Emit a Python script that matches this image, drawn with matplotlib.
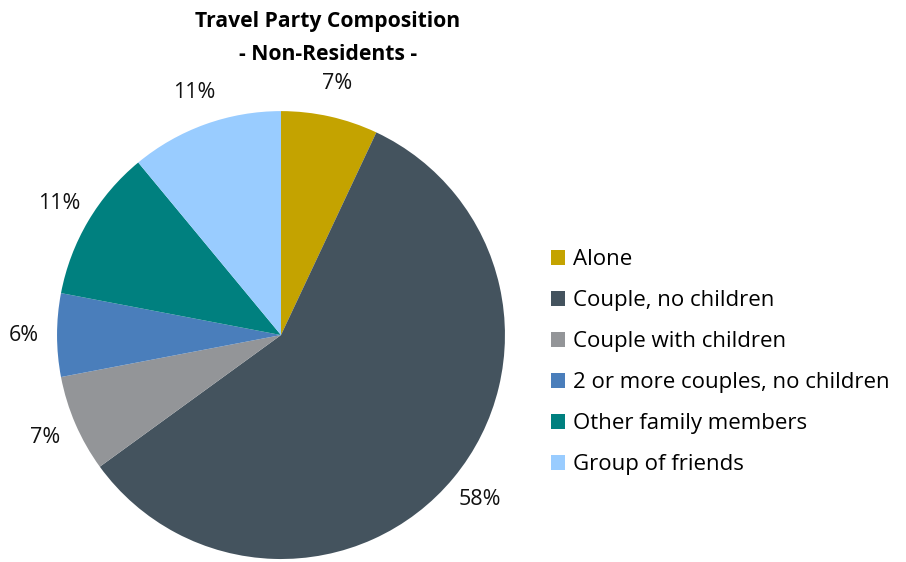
import matplotlib.pyplot as plt
import numpy as np

plt.rcParams['font.family'] = ['Open Sans', 'DejaVu Sans']

# travel party shares, non-residents (%)
categories = ['Alone', 'Couple, no children', 'Couple with children',
              '2 or more couples, no children', 'Other family members',
              'Group of friends']
shares = [7, 58, 7, 6, 11, 11]
colors = ['#C4A300', '#44535E', '#939598', '#4A7EBB', '#00807F', '#99CCFF']

fig = plt.figure(figsize=(9.06, 5.62), dpi=100)
ax = fig.add_axes([0.0629, 0.0053, 0.4945, 0.797])

wedges, texts = ax.pie(shares, colors=colors, startangle=90, counterclock=False,
                       radius=1.0, wedgeprops=dict(linewidth=0))

# percentage labels just outside each slice
total = float(sum(shares))
for w, v in zip(wedges, shares):
    mid = np.deg2rad((w.theta1 + w.theta2) / 2.0)
    d = 1.15
    ax.text(d * np.cos(mid), d * np.sin(mid), '%d%%' % round(100 * v / total),
            ha='center', va='center', fontsize=15.5, color='#111111')

ax.set_xlim(-1, 1)
ax.set_ylim(-1, 1)
ax.set_aspect('equal')
ax.axis('off')

fig.text(0.362, 0.981, 'Travel Party Composition\n- Non-Residents -',
         ha='center', va='top', fontsize=15.2, fontweight='bold',
         linespacing=1.78)

leg = fig.legend(wedges, categories, loc='center left',
                 bbox_to_anchor=(0.586, 0.355), frameon=False,
                 fontsize=16, handlelength=0.63, handleheight=0.63,
                 handletextpad=0.36, labelspacing=0.9)

fig.savefig('out.png', dpi=100)
